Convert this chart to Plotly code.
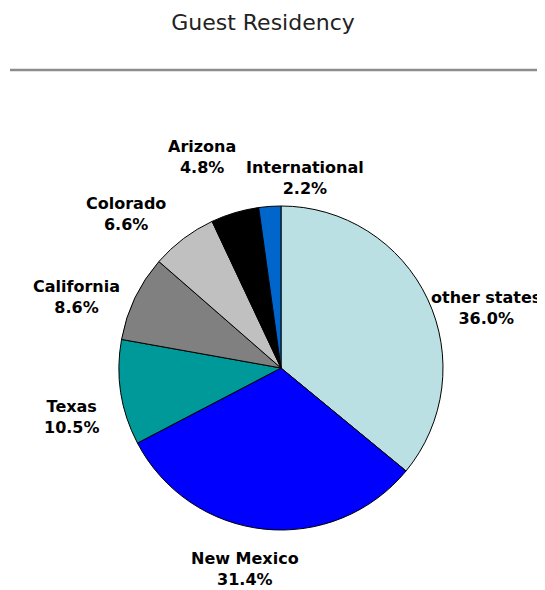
import plotly.graph_objects as go

labels = ["other states", "New Mexico", "Texas", "California", "Colorado", "Arizona", "International"]
values = [36.0, 31.4, 10.5, 8.6, 6.6, 4.8, 2.2]
colors = ["#BAE0E4", "#0000FF", "#009999", "#808080", "#C0C0C0", "#000000", "#0066CC"]

OFF = 8  # page body margin that the browser adds around the plot
W, H = 545 - OFF, 590 - OFF

def px(x):
    return (x - OFF) / W

def py(y):
    return 1 - (y - OFF) / H

# pie centre / radius, in page pixels
cx, cy, R = 281, 368, 162

# where each data label sits (label centre, page pixels), like the hand-placed labels of the original
label_pos = {
    "other states": (486, 308),
    "New Mexico": (245, 569),
    "Texas": (72, 417),
    "California": (76, 297),
    "Colorado": (126, 214),
    "Arizona": (202, 157),
    "International": (305, 178),
}

fig = go.Figure(go.Pie(
    labels=labels,
    values=values,
    sort=False,
    direction="clockwise",
    rotation=0,
    marker=dict(colors=colors, line=dict(color="black", width=1)),
    textinfo="none",
    hoverinfo="label+value",
    showlegend=False,
    domain=dict(x=[px(cx - R), px(cx + R)], y=[py(cy + R), py(cy - R)]),
))

for lab, v in zip(labels, values):
    lx, ly = label_pos[lab]
    fig.add_annotation(
        x=px(lx), y=py(ly), xref="paper", yref="paper",
        text=f"<b>{lab}<br>{v:.1f}%</b>", showarrow=False,
        xanchor="center", yanchor="middle", align="center",
        font=dict(size=16, color="black", family="Century Gothic, DejaVu Sans, sans-serif"),
    )

fig.add_shape(type="line", xref="paper", yref="paper",
              x0=px(10), x1=1, y0=py(70), y1=py(70),
              line=dict(color="#8C8C8C", width=2.5))

fig.update_layout(
    title=dict(text="Guest Residency", x=px(263), xanchor="center", y=py(22), yanchor="middle",
               font=dict(size=22, color="#222222", family="Century Gothic, DejaVu Sans, sans-serif")),
    width=W, height=H,
    margin=dict(l=0, r=0, t=0, b=0),
    paper_bgcolor="white",
    plot_bgcolor="white",
)

fig.write_html("out.html")
